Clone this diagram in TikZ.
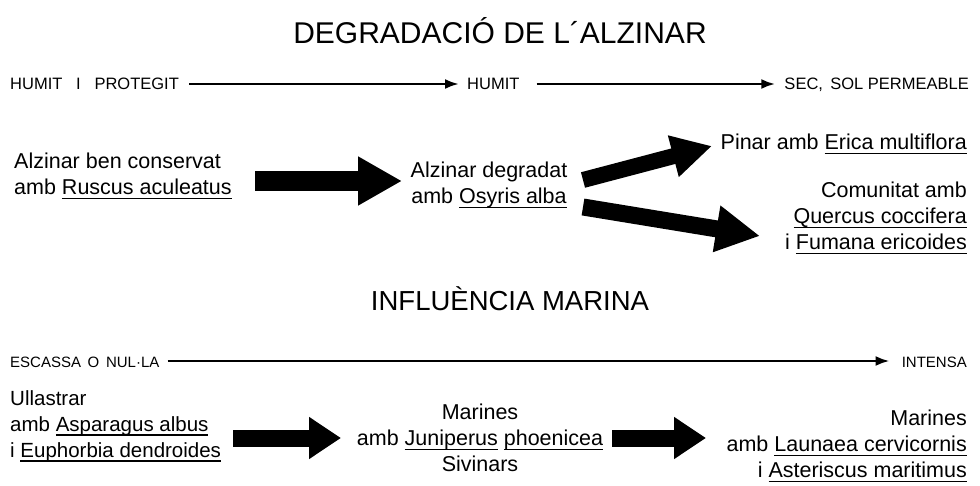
\documentclass[tikz,border=0pt]{standalone}
\usepackage{fontspec}
\setmainfont{Liberation Sans}
\usetikzlibrary{arrows.meta}
\newcommand\sci[1]{\setbox0\hbox{#1}\rlap{\rule[-4.5pt]{\wd0}{1.2pt}}\box0\relax}
\tikzset{
  txt/.style={inner sep=0pt, font=\fontsize{21.5}{26}\selectfont},
  lab/.style={inner sep=0pt, font=\fontsize{16.5}{19}\selectfont},
  slab/.style={inner sep=0pt, font=\fontsize{15}{18}\selectfont},
  ttl/.style={inner sep=0pt, font=\fontsize{30}{34}\selectfont},
  thinarrow/.style={line width=2.6pt, -{Latex[length=14pt,width=10pt]}},
  bigarrow/.style={line width=20pt, -{Triangle[length=44pt,width=46pt]}},
}
\begin{document}
\begin{tikzpicture}[x=1pt,y=-1pt]
\useasboundingbox (0,0) rectangle (980,486);
% titles
\node[ttl] (t1) at (500,31) {DEGRADACIÓ DE L´ALZINAR};
\node[ttl, font=\fontsize{27.5}{31}\selectfont] (t2) at (510,299) {INFLUÈNCIA MARINA};
% gradient row 1
\node[lab, anchor=base west] (h1) at (10,90) {HUMIT\;\; I\;\; PROTEGIT};
\node[lab, anchor=base west] (h2) at (467,90) {HUMIT};
\node[lab, anchor=base east] (h3) at (969,90) {SEC,\, SOL PERMEABLE};
\coordinate (r1) at (0,84);
\draw[thinarrow] (h1.east |- r1) ++(10pt,0) -- ([xshift=-8pt]h2.west |- r1);
\draw[thinarrow] (h2.east |- r1) ++(17pt,0) -- ([xshift=-9pt]h3.west |- r1);
% middle row
\node[txt, anchor=west, align=left] (a1) at (14,176) {Alzinar ben conservat\\amb \sci{Ruscus aculeatus}};
\node[txt, align=center] (a2) at (489,185) {Alzinar degradat\\amb \sci{Osyris alba}};
\node[txt, anchor=east, align=right] (a3) at (967,144) {Pinar amb \sci{Erica multiflora}};
\node[txt, anchor=east, align=right] (a4) at (967,218) {Comunitat amb\\\sci{Quercus coccifera}\\i \sci{Fumana ericoides}};
\coordinate (p1s) at (255,181); \coordinate (p1e) at (402,181);
\draw[bigarrow] (p1s) -- (p1e);
\coordinate (p2s) at (583,180); \coordinate (p2e) at (712,146);
\draw[bigarrow, line width=16pt, -{Triangle[length=40pt,width=40pt]}] (p2s) -- (p2e);
\coordinate (p3s) at (583,207); \coordinate (p3e) at (760,236);
\draw[bigarrow, line width=17pt, -{Triangle[length=44pt,width=44pt]}] (p3s) -- (p3e);
% gradient row 2
\node[slab, anchor=base west] (g1) at (10,367) {ESCASSA\, O\, NUL·LA};
\node[slab, anchor=base east] (g2) at (967,367) {INTENSA};
\coordinate (r2) at (0,361);
\draw[thinarrow] (g1.east |- r2) ++(8pt,0) -- ([xshift=-12pt]g2.west |- r2);
% bottom row
\node[txt, font=\fontsize{20.5}{26}\selectfont, anchor=west, align=left] (b1) at (10,426) {Ullastrar\\amb \sci{Asparagus albus}\\i \sci{Euphorbia dendroides}};
\node[txt, align=center] (b2) at (480,438) {Marines\\amb \sci{Juniperus} \sci{phoenicea}\\Sivinars};
\node[txt, anchor=east, align=right] (b3) at (967,446) {Marines\\amb \sci{Launaea cervicornis}\\i \sci{Asteriscus maritimus}};
\coordinate (q1s) at (233,438); \coordinate (q1e) at (341,438);
\draw[bigarrow, line width=17pt, -{Triangle[length=32pt,width=40pt]}] (q1s) -- (q1e);
\coordinate (q2s) at (612,438); \coordinate (q2e) at (706,438);
\draw[bigarrow, line width=17pt, -{Triangle[length=32pt,width=40pt]}] (q2s) -- (q2e);
\end{tikzpicture}
\end{document}
